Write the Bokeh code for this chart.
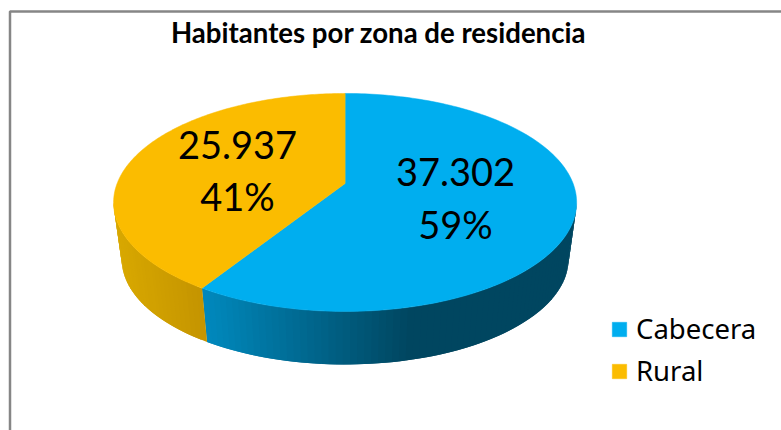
import math
from bokeh.embed import file_html
from bokeh.resources import INLINE
from bokeh.plotting import figure
from bokeh.models import Legend, LegendItem, Range1d
from bokeh.core.properties import value

title = "Habitantes por zona de residencia"
categories = ["Cabecera", "Rural"]
values = [37302, 25937]
top_colors = ["#00AEEF", "#FBBC00"]

# perspective pie geometry, in reference pixels
CX, CY, R, SQUASH, K = 344.6, 183.0, 228.0, 105.7, 0.174
FLOOR_SCALE, FLOOR_DROP = 0.965, 57.5
LABEL_POS = [(455, 171, 223), (237, 144, 195)]

total = sum(values)


def top(theta):
    u, v = math.sin(theta), -math.cos(theta)
    d = 1 - K * v
    return CX + R * u / d, CY + SQUASH * v / d


def floor(theta):
    x, y = top(theta)
    return CX + FLOOR_SCALE * (x - CX), CY + FLOOR_DROP + FLOOR_SCALE * (y - CY)


def mix(a, b, t):
    t = max(0.0, min(1.0, t))
    return "#%02x%02x%02x" % tuple(round(a[i] + (b[i] - a[i]) * t) for i in range(3))


p = figure(width=781, height=430, output_backend="svg", toolbar_location=None,
           x_range=Range1d(0, 781), y_range=Range1d(430, 0),
           min_border=0, outline_line_color=None)
p.xaxis.visible = False
p.yaxis.visible = False
p.grid.visible = False

# chart frame
p.quad(left=[9.5], right=[820], top=[11], bottom=[470], fill_color=None,
       line_color="#868686", line_width=2.5)

# slice angles
angles = []
start = 0.0
for val in values:
    end = start + 2 * math.pi * val / total
    angles.append((start, end))
    start = end

# side walls: overlapping strips, each covered by the next, so no seams show
LEFT_LIMIT = math.radians(260)
RIGHT_LIMIT = math.radians(100)
wall_specs = [
    (RIGHT_LIMIT, angles[0][1], lambda x: mix((0, 136, 188), (0, 70, 96), (x - 205) / 200)),
    (angles[1][0], LEFT_LIMIT, lambda x: mix((196, 148, 0), (216, 168, 0), (203 - x) / 85)),
]
for a0, a1, shade in wall_specs:
    steps = max(8, int(abs(a1 - a0) / math.radians(1.5)))
    for i in range(steps):
        t0 = a0 + (a1 - a0) * i / steps
        t1 = a0 + (a1 - a0) * min(i + 2, steps) / steps
        pts = [top(t0), top(t1), floor(t1), floor(t0)]
        c = shade(sum(q[0] for q in pts) / 4)
        p.patch([q[0] for q in pts], [q[1] for q in pts], fill_color=c, line_color=None)

# top faces
items = []
for cat, col, (a0, a1) in zip(categories, top_colors, angles):
    n = 180
    pts = [(CX, CY)] + [top(a0 + (a1 - a0) * i / n) for i in range(n + 1)]
    r = p.patch([q[0] for q in pts], [q[1] for q in pts], fill_color=col,
                line_color=col, line_width=0.5)
    items.append(LegendItem(label=cat, renderers=[r]))

# data labels
for val, (lx, y1, y2) in zip(values, LABEL_POS):
    count = f"{val:,}".replace(",", ".")
    pct = f"{round(100 * val / total)}%"
    p.text([lx, lx], [y1, y2], text=[count, pct], text_font=value("Lato"),
           text_font_size="38px", text_color="#000000",
           text_align="center", text_baseline="middle")

# title
p.text([378], [32], text=[title], text_font=value("Lato"), text_font_size="27.6px",
       text_font_style="bold", text_color="#000000",
       text_align="center", text_baseline="middle")

legend = Legend(items=items, location=(610, 41), orientation="vertical",
                background_fill_alpha=0, border_line_color=None,
                label_text_font="Noto Sans", label_text_font_size="27.5px",
                label_text_color="#000000", glyph_width=18, glyph_height=18,
                label_standoff=8, spacing=5, margin=0, padding=0,
                label_height=32)
p.add_layout(legend, "center")

open("out.html", "w").write(file_html(p, INLINE))
